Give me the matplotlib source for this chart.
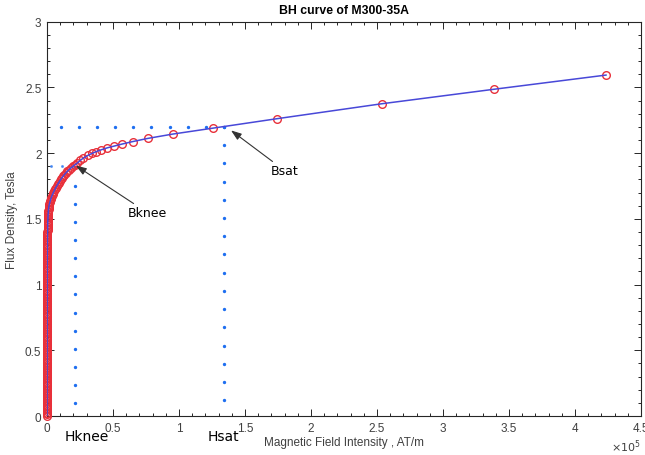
import numpy as np
import matplotlib.pyplot as plt
from matplotlib.ticker import MultipleLocator, FixedLocator, FixedFormatter

# B-H data of M300-35A, H in A/m, B in Tesla
H = [0, 3, 5, 8, 10, 12, 14, 16, 18, 20, 21, 23, 24, 26, 27, 28, 29, 30, 31, 32,
     33, 34, 35, 36, 37, 38, 39, 40, 41, 41, 42, 43, 44, 45, 46, 46, 47, 48, 49, 50,
     51, 51, 52, 53, 54, 55, 56, 56, 57, 58, 59, 60, 61, 62, 63, 64, 65, 66, 67, 68,
     69, 70, 71, 72, 73, 74, 76, 77, 78, 79, 81, 82, 84, 85, 87, 88, 90, 92, 94, 96,
     98, 100, 102, 104, 107, 109, 112, 115, 118, 121, 125, 129, 133, 137, 142, 147,
     152, 158, 164, 171, 178, 186, 195, 205, 215, 227, 240, 254, 270, 287, 306, 327,
     350, 376, 405, 436, 470, 508, 550, 597, 650, 710, 780, 860, 950, 1055, 1170,
     1320, 1500, 1780, 2100, 2430, 2800, 3230, 3700, 4230, 4800, 5390, 6000, 6630,
     7300, 8030, 8800, 9590, 10400, 11280, 12200, 13220, 14300, 15470, 16700, 18100,
     19600, 21250, 23000, 25200, 27500, 31300, 34100, 37400, 40900, 45500, 50800,
     56800, 64900, 76300, 95200, 125500, 174200, 253800, 338600, 423500]
B = [0.0000, 0.0125, 0.0250, 0.0375, 0.0500, 0.0625, 0.0750, 0.0875, 0.1000, 0.1125,
     0.1250, 0.1375, 0.1500, 0.1625, 0.1750, 0.1875, 0.2000, 0.2125, 0.2250, 0.2375,
     0.2500, 0.2625, 0.2750, 0.2875, 0.3000, 0.3125, 0.3250, 0.3375, 0.3500, 0.3625,
     0.3750, 0.3875, 0.4000, 0.4125, 0.4250, 0.4375, 0.4500, 0.4625, 0.4750, 0.4875,
     0.5000, 0.5125, 0.5250, 0.5375, 0.5500, 0.5625, 0.5750, 0.5875, 0.6000, 0.6125,
     0.6250, 0.6375, 0.6500, 0.6625, 0.6750, 0.6875, 0.7000, 0.7125, 0.7250, 0.7375,
     0.7500, 0.7625, 0.7750, 0.7875, 0.8000, 0.8125, 0.8250, 0.8375, 0.8500, 0.8625,
     0.8750, 0.8875, 0.9000, 0.9125, 0.9250, 0.9375, 0.9500, 0.9625, 0.9750, 0.9875,
     1.0000, 1.0125, 1.0250, 1.0375, 1.0500, 1.0625, 1.0750, 1.0875, 1.1000, 1.1125,
     1.1250, 1.1375, 1.1500, 1.1625, 1.1750, 1.1875, 1.2000, 1.2125, 1.2250, 1.2375,
     1.2500, 1.2625, 1.2750, 1.2875, 1.3000, 1.3125, 1.3250, 1.3375, 1.3500, 1.3625,
     1.3750, 1.3875, 1.4000, 1.4125, 1.4250, 1.4375, 1.4500, 1.4625, 1.4750, 1.4875,
     1.5000, 1.5125, 1.5250, 1.5375, 1.5500, 1.5625, 1.5750, 1.5875, 1.6000, 1.6125,
     1.6250, 1.6375, 1.6500, 1.6625, 1.6750, 1.6875, 1.7000, 1.7125, 1.7250, 1.7375,
     1.7500, 1.7625, 1.7750, 1.7875, 1.8000, 1.8125, 1.8250, 1.8375, 1.8500, 1.8625,
     1.8750, 1.8875, 1.9000, 1.9125, 1.9250, 1.9450, 1.9620, 1.9850, 1.9980, 2.0120,
     2.0250, 2.0400, 2.0540, 2.0690, 2.0880, 2.1120, 2.1450, 2.1900, 2.2620, 2.3760,
     2.4860, 2.5940]

# knee and saturation points
Hknee, Bknee = 21400, 1.905
Hsat, Bsat = 134000, 2.2

# dotted guide lines
knee_vert_B = [0.097, 0.235, 0.373, 0.511, 0.649, 0.787, 0.925, 1.063, 1.201,
               1.339, 1.477, 1.615, 1.753, 1.891]
knee_horz_H = [2800, 11100, 19400]
sat_vert_B = [2.200, 2.061, 1.923, 1.784, 1.645, 1.506, 1.368, 1.229, 1.090,
              0.952, 0.813, 0.674, 0.535, 0.397, 0.258, 0.119]
sat_horz_H = [10300, 24000, 37800, 51500, 65300, 79000, 92800, 106500, 120300, 134000]

xticks = [0, 0.5e5, 1e5, 1.5e5, 2e5, 2.5e5, 3e5, 3.5e5, 4e5, 4.5e5]
xlabels = ['0', '0.5', '1', '1.5', '2', '2.5', '3', '3.5', '4', '4.5']
yticks = [0, 0.5, 1, 1.5, 2, 2.5, 3]
ylabels = ['0', '0.5', '1', '1.5', '2', '2.5', '3']

plt.rcParams['font.family'] = ['Liberation Sans', 'DejaVu Sans']
axcol = '#262626'
dotcol = '#1f6ff0'

fig = plt.figure(figsize=(6.45, 4.56), dpi=100)
ax = fig.add_axes([0.0729, 0.0855, 0.9209, 0.8647])

ax.plot([Hknee] * len(knee_vert_B), knee_vert_B, '.', color=dotcol, ms=2.8)
ax.plot(knee_horz_H, [Bknee] * len(knee_horz_H), '.', color=dotcol, ms=2.4, alpha=0.6)
ax.plot([Hsat] * len(sat_vert_B), sat_vert_B, '.', color=dotcol, ms=2.8)
ax.plot(sat_horz_H, [Bsat] * len(sat_horz_H), '.', color=dotcol, ms=2.8)

# markers are not clipped at the axes edge
ax.plot(H, B, 'o', mfc='none', mec='#e8303a', ms=5.5, mew=1.0, zorder=3, clip_on=False)
ax.plot(H, B, '-', color='#4848d8', lw=1.1, zorder=4)

ax.set_xlim(0, 4.5e5)
ax.set_ylim(0, 3)
ax.xaxis.set_major_locator(FixedLocator(xticks))
ax.xaxis.set_major_formatter(FixedFormatter(xlabels))
ax.yaxis.set_major_locator(FixedLocator(yticks))
ax.yaxis.set_major_formatter(FixedFormatter(ylabels))
ax.xaxis.set_minor_locator(MultipleLocator(0.1e5))
ax.yaxis.set_minor_locator(MultipleLocator(0.1))
ax.tick_params(which='both', direction='in', top=True, right=True,
               color=axcol, labelcolor='#404040', labelsize=8.5, width=0.7)
ax.tick_params(which='major', length=5, pad=4)
ax.tick_params(which='minor', length=2.5)
for s in ax.spines.values():
    s.set_color(axcol)
    s.set_linewidth(0.8)

ax.set_title('BH curve of M300-35A', fontsize=8.8, fontweight='bold', pad=6)
ax.set_xlabel('Magnetic Field Intensity , AT/m', fontsize=8.5, color='#404040', labelpad=2)
ax.set_ylabel('Flux Density, Tesla', fontsize=8.5, color='#404040', labelpad=5)
ax.text(1.0, -0.075, r'$\times10^{5}$', transform=ax.transAxes, ha='right',
        va='center', fontsize=8, color='#404040')

arrow = dict(arrowstyle='-|>,head_length=0.7,head_width=0.25', color='#333333',
             lw=0.8, shrinkA=0, shrinkB=0)
ax.annotate('Bknee', xy=(Hknee + 500, Bknee), xytext=(61400, 1.546),
            fontsize=9, family='DejaVu Sans', va='center', arrowprops=arrow)
ax.annotate('Bsat', xy=(139400, 2.173), xytext=(169700, 1.866),
            fontsize=9, family='DejaVu Sans', va='center', arrowprops=arrow)
ax.text(13600, -0.152, 'Hknee', fontsize=10, family='DejaVu Sans', va='center',
        clip_on=False)
ax.text(122000, -0.152, 'Hsat', fontsize=10, family='DejaVu Sans', va='center',
        clip_on=False)

fig.savefig('out.png', dpi=100)
